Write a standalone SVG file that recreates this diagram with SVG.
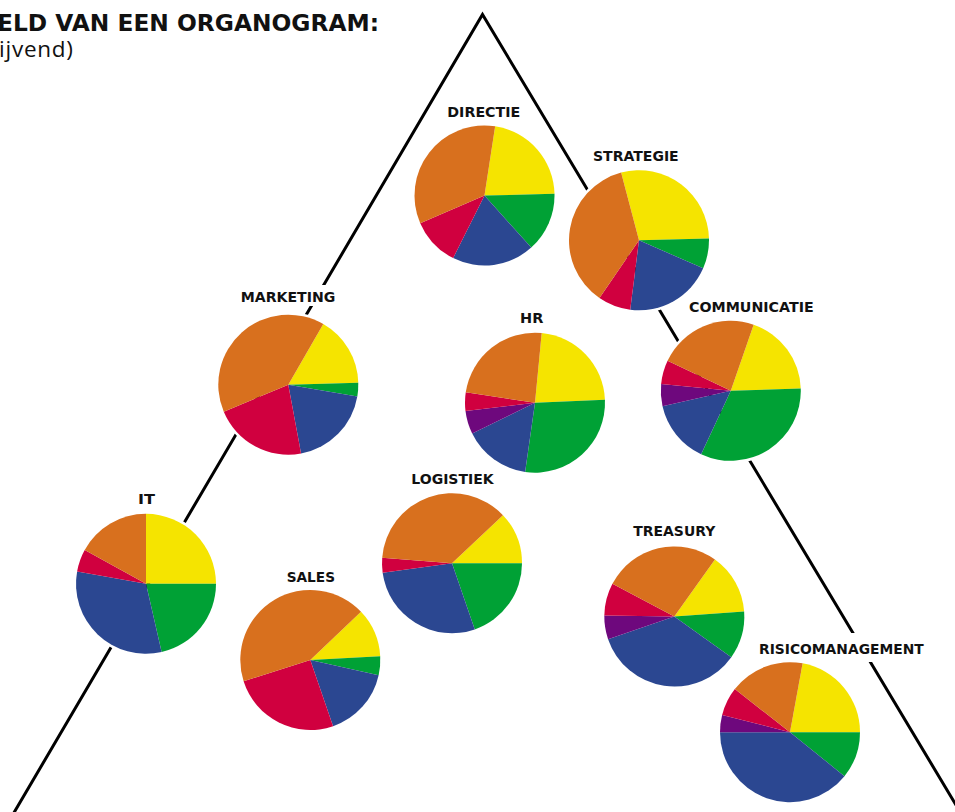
<svg xmlns="http://www.w3.org/2000/svg" width="955" height="812" viewBox="0 0 955 812">
<style>
.title{font-family:"DejaVu Sans","Open Sans","Liberation Sans",sans-serif;font-weight:700;font-size:23.3px;fill:#111}
.sub{font-family:"Open Sans","Noto Sans","Liberation Sans",sans-serif;font-weight:400;font-size:22.5px;fill:#111}
.lbl{font-family:"DejaVu Sans","Open Sans","Liberation Sans",sans-serif;font-weight:700;font-size:14.5px;fill:#111}
.bg{fill:#fff}
.ring{fill:none;stroke:#fff;stroke-width:5}
.tri{fill:none;stroke:#000;stroke-width:3;stroke-linejoin:miter;stroke-miterlimit:10}
.o{fill:#D8701E}
.y{fill:#F5E400}
.g{fill:#00A135}
.b{fill:#2B4791}
.r{fill:#D0003F}
.p{fill:#6E087D}
</style>
<rect width="955" height="812" fill="#fff"/>
<text class="title" x="-3" y="30.7" textLength="382" lengthAdjust="spacingAndGlyphs">ELD VAN EEN ORGANOGRAM:</text>
<text class="sub" x="-1" y="57.3" textLength="74" lengthAdjust="spacing">ijvend)</text>
<g id="connectors">
<polyline class="tri" points="12.6,815 482.5,14.5 962,815"/>
</g>
<g id="directie">
<circle class="ring" cx="484.5" cy="195.5" r="70"/>
<path class="y" d="M484.5,195.5 L495.15,126.31 A70,70 0 0 1 554.48,193.79 Z"/>
<path class="g" d="M484.5,195.5 L554.48,193.79 A70,70 0 0 1 531.25,247.6 Z"/>
<path class="b" d="M484.5,195.5 L531.25,247.6 A70,70 0 0 1 453.15,258.09 Z"/>
<path class="r" d="M484.5,195.5 L453.15,258.09 A70,70 0 0 1 420.21,223.19 Z"/>
<path class="o" d="M484.5,195.5 L420.21,223.19 A70,70 0 0 1 495.15,126.31 Z"/>
<text class="lbl" x="447.3" y="116.7" textLength="73" lengthAdjust="spacingAndGlyphs">DIRECTIE</text>
</g>
<g id="strategie">
<circle class="ring" cx="639" cy="240.3" r="70"/>
<path class="y" d="M639,240.3 L621.12,172.62 A70,70 0 0 1 708.98,238.59 Z"/>
<path class="g" d="M639,240.3 L708.98,238.59 A70,70 0 0 1 703.15,268.32 Z"/>
<path class="b" d="M639,240.3 L703.15,268.32 A70,70 0 0 1 630.23,309.75 Z"/>
<path class="r" d="M639,240.3 L630.23,309.75 A70,70 0 0 1 599.45,298.06 Z"/>
<path class="o" d="M639,240.3 L599.45,298.06 A70,70 0 0 1 621.12,172.62 Z"/>
<text class="lbl" x="593" y="161" textLength="85.7" lengthAdjust="spacingAndGlyphs">STRATEGIE</text>
</g>
<g id="marketing">
<rect class="bg" x="240" y="285" width="97" height="21"/>
<circle class="ring" cx="288.3" cy="384.7" r="70"/>
<path class="y" d="M288.3,384.7 L323.3,324.08 A70,70 0 0 1 358.27,382.75 Z"/>
<path class="g" d="M288.3,384.7 L358.27,382.75 A70,70 0 0 1 357.3,396.5 Z"/>
<path class="b" d="M288.3,384.7 L357.3,396.5 A70,70 0 0 1 301.05,453.53 Z"/>
<path class="r" d="M288.3,384.7 L301.05,453.53 A70,70 0 0 1 223.77,411.83 Z"/>
<path class="o" d="M288.3,384.7 L223.77,411.83 A70,70 0 0 1 323.3,324.08 Z"/>
<text class="lbl" x="240.7" y="301.7" textLength="94.6" lengthAdjust="spacingAndGlyphs">MARKETING</text>
</g>
<g id="hr">
<circle class="ring" cx="535" cy="402.7" r="70"/>
<path class="y" d="M535,402.7 L541.71,333.02 A70,70 0 0 1 604.93,399.65 Z"/>
<path class="g" d="M535,402.7 L604.93,399.65 A70,70 0 0 1 525.14,472 Z"/>
<path class="b" d="M535,402.7 L525.14,472 A70,70 0 0 1 472.19,433.61 Z"/>
<path class="p" d="M535,402.7 L472.19,433.61 A70,70 0 0 1 465.5,411.11 Z"/>
<path class="r" d="M535,402.7 L465.5,411.11 A70,70 0 0 1 465.77,392.35 Z"/>
<path class="o" d="M535,402.7 L465.77,392.35 A70,70 0 0 1 541.71,333.02 Z"/>
<text class="lbl" x="520" y="323.3" textLength="23.3" lengthAdjust="spacingAndGlyphs">HR</text>
</g>
<g id="communicatie">
<circle class="ring" cx="730.8" cy="390.8" r="70"/>
<path class="y" d="M730.8,390.8 L753.65,324.64 A70,70 0 0 1 800.76,388.48 Z"/>
<path class="g" d="M730.8,390.8 L800.76,388.48 A70,70 0 0 1 701.11,454.19 Z"/>
<path class="b" d="M730.8,390.8 L701.11,454.19 A70,70 0 0 1 662.52,406.19 Z"/>
<path class="p" d="M730.8,390.8 L662.52,406.19 A70,70 0 0 1 661.14,383.97 Z"/>
<path class="r" d="M730.8,390.8 L661.14,383.97 A70,70 0 0 1 667.57,360.78 Z"/>
<path class="o" d="M730.8,390.8 L667.57,360.78 A70,70 0 0 1 753.65,324.64 Z"/>
<text class="lbl" x="689" y="311.7" textLength="124.7" lengthAdjust="spacingAndGlyphs">COMMUNICATIE</text>
</g>
<g id="it">
<circle class="ring" cx="146" cy="583.8" r="70"/>
<path class="y" d="M146,583.8 L146,513.8 A70,70 0 0 1 216,583.8 Z"/>
<path class="g" d="M146,583.8 L216,583.8 A70,70 0 0 1 161.63,652.04 Z"/>
<path class="b" d="M146,583.8 L161.63,652.04 A70,70 0 0 1 77.11,571.4 Z"/>
<path class="r" d="M146,583.8 L77.11,571.4 A70,70 0 0 1 84.72,549.97 Z"/>
<path class="o" d="M146,583.8 L84.72,549.97 A70,70 0 0 1 146,513.8 Z"/>
<text class="lbl" x="138" y="504.3" textLength="17" lengthAdjust="spacingAndGlyphs">IT</text>
</g>
<g id="logistiek">
<circle class="ring" cx="452" cy="563.2" r="70"/>
<path class="y" d="M452,563.2 L502.95,515.19 A70,70 0 0 1 522,563.2 Z"/>
<path class="g" d="M452,563.2 L522,563.2 A70,70 0 0 1 474.79,629.39 Z"/>
<path class="b" d="M452,563.2 L474.79,629.39 A70,70 0 0 1 382.65,572.7 Z"/>
<path class="r" d="M452,563.2 L382.65,572.7 A70,70 0 0 1 382.22,557.71 Z"/>
<path class="o" d="M452,563.2 L382.22,557.71 A70,70 0 0 1 502.95,515.19 Z"/>
<text class="lbl" x="411.3" y="484.3" textLength="82.4" lengthAdjust="spacingAndGlyphs">LOGISTIEK</text>
</g>
<g id="sales">
<circle class="ring" cx="310.3" cy="660" r="70"/>
<path class="y" d="M310.3,660 L361,611.73 A70,70 0 0 1 380.2,656.21 Z"/>
<path class="g" d="M310.3,660 L380.2,656.21 A70,70 0 0 1 378.64,675.15 Z"/>
<path class="b" d="M310.3,660 L378.64,675.15 A70,70 0 0 1 333.09,726.19 Z"/>
<path class="r" d="M310.3,660 L333.09,726.19 A70,70 0 0 1 243.61,681.28 Z"/>
<path class="o" d="M310.3,660 L243.61,681.28 A70,70 0 0 1 361,611.73 Z"/>
<text class="lbl" x="286.7" y="581.7" textLength="48.3" lengthAdjust="spacingAndGlyphs">SALES</text>
</g>
<g id="treasury">
<circle class="ring" cx="674.3" cy="616.5" r="70"/>
<path class="y" d="M674.3,616.5 L714.95,559.51 A70,70 0 0 1 744.13,611.61 Z"/>
<path class="g" d="M674.3,616.5 L744.13,611.61 A70,70 0 0 1 731.29,657.15 Z"/>
<path class="b" d="M674.3,616.5 L731.29,657.15 A70,70 0 0 1 608.07,639.17 Z"/>
<path class="p" d="M674.3,616.5 L608.07,639.17 A70,70 0 0 1 604.31,615.52 Z"/>
<path class="r" d="M674.3,616.5 L604.31,615.52 A70,70 0 0 1 612.43,583.75 Z"/>
<path class="o" d="M674.3,616.5 L612.43,583.75 A70,70 0 0 1 714.95,559.51 Z"/>
<text class="lbl" x="633.3" y="536.3" textLength="82" lengthAdjust="spacingAndGlyphs">TREASURY</text>
</g>
<g id="risicomanagement">
<rect class="bg" x="757" y="633" width="169" height="29"/>
<circle class="ring" cx="790" cy="732.2" r="70"/>
<path class="y" d="M790,732.2 L802.64,663.35 A70,70 0 0 1 860,732.2 Z"/>
<path class="g" d="M790,732.2 L860,732.2 A70,70 0 0 1 844.47,776.16 Z"/>
<path class="b" d="M790,732.2 L844.47,776.16 A70,70 0 0 1 720,732.2 Z"/>
<path class="p" d="M790,732.2 L720,732.2 A70,70 0 0 1 722.14,715.03 Z"/>
<path class="r" d="M790,732.2 L722.14,715.03 A70,70 0 0 1 734.84,689.1 Z"/>
<path class="o" d="M790,732.2 L734.84,689.1 A70,70 0 0 1 802.64,663.35 Z"/>
<text class="lbl" x="759" y="653.7" textLength="164.7" lengthAdjust="spacingAndGlyphs">RISICOMANAGEMENT</text>
</g>
</svg>
